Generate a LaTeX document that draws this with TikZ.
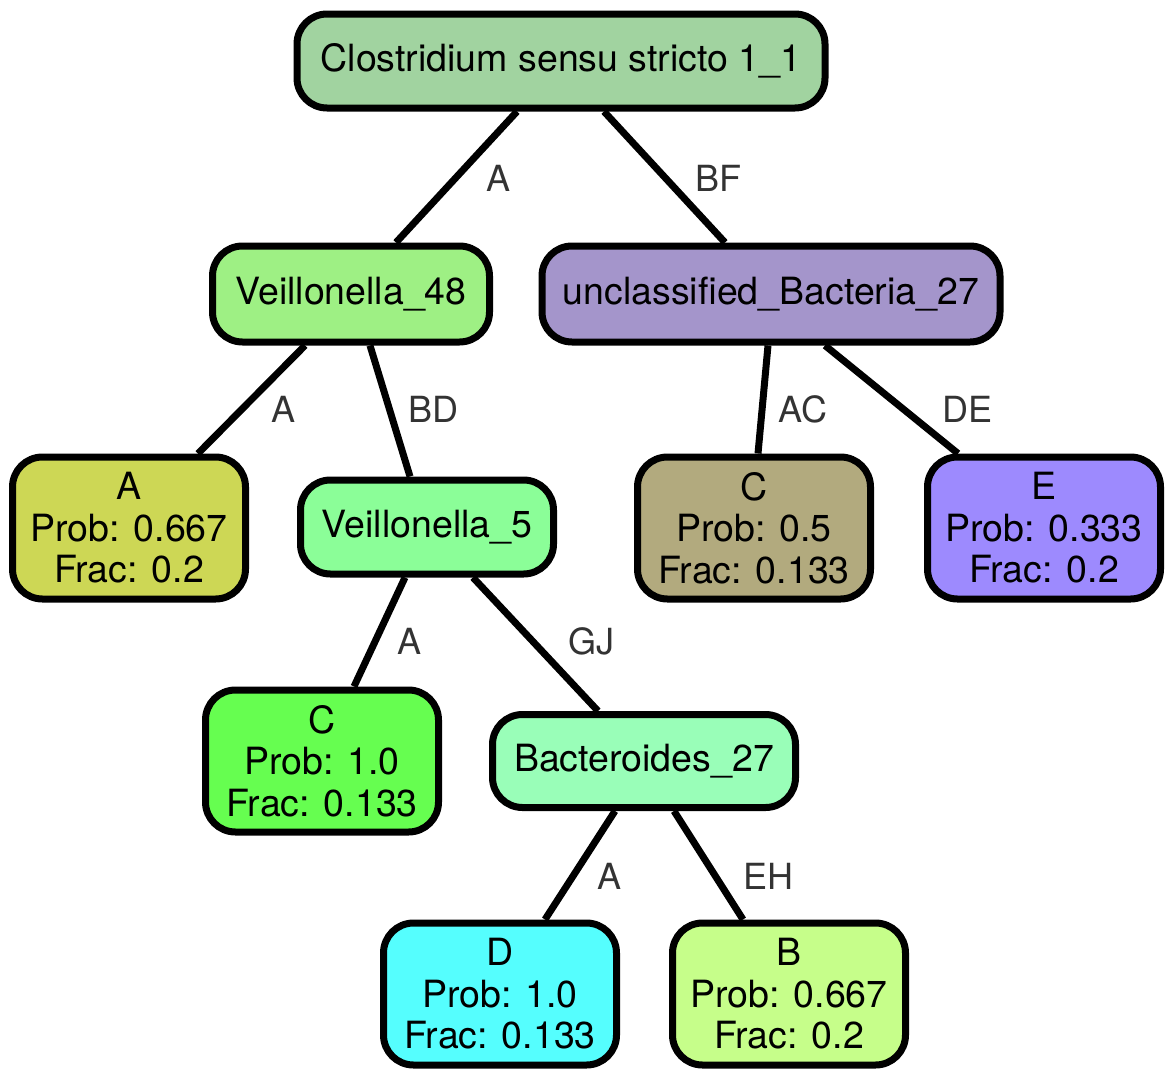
\documentclass[tikz,border=0pt]{standalone}
\usepackage{fontspec}
\setmainfont{TeX Gyre Heros}
\usetikzlibrary{calc}
\definecolor{cRoot}{HTML}{A1D3A0}
\definecolor{cVa}{HTML}{9EF084}
\definecolor{cUn}{HTML}{A495CB}
\definecolor{cLA}{HTML}{CDD755}
\definecolor{cVb}{HTML}{8BFE98}
\definecolor{cLC}{HTML}{B2AA7E}
\definecolor{cLE}{HTML}{9D8AFE}
\definecolor{cLCg}{HTML}{66FE50}
\definecolor{cBa}{HTML}{99FEB8}
\definecolor{cLD}{HTML}{55FEFE}
\definecolor{cLB}{HTML}{C6FE8A}
\definecolor{elab}{HTML}{333333}
\tikzset{
  box/.style={draw=black, line width=7pt, rounded corners=30pt, inner sep=0pt,
    align=center, font=\fontsize{37.5}{41.5}\selectfont},
  inner/.style={box, minimum height=94pt},
  leaf/.style={box, minimum width=233pt, minimum height=142pt},
  conn/.style={line width=7pt, draw=black},
  elabel/.style={text=elab, font=\fontsize{36}{40}\selectfont, inner sep=0pt}
}
\begin{document}
\begin{tikzpicture}[x=1pt,y=-1pt]
\useasboundingbox (0,0) rectangle (1175,1079);
\node[inner, fill=cRoot, minimum width=528pt] (root) at (561,61) {Clostridium sensu stricto 1\_1};
\node[inner, fill=cVa, minimum width=277pt, minimum height=96pt] (va) at (351,294) {Veillonella\_48};
\node[inner, fill=cUn, minimum width=458pt, minimum height=96pt] (un) at (771,294) {unclassified\_Bacteria\_27};
\node[leaf, fill=cLA] (la) at (129,528) {A\\Prob: 0.667\\Frac: 0.2};
\node[inner, fill=cVb, minimum width=253pt] (vb) at (427,527) {Veillonella\_5};
\node[leaf, fill=cLC] (lc) at (754,528) {C\\Prob: 0.5\\Frac: 0.133};
\node[leaf, fill=cLE] (le) at (1044,528) {E\\Prob: 0.333\\Frac: 0.2};
\node[leaf, fill=cLCg] (lcg) at (322,761) {C\\Prob: 1.0\\Frac: 0.133};
\node[inner, fill=cBa, minimum width=303pt, minimum height=93pt] (ba) at (644,761) {Bacteroides\_27};
\node[leaf, fill=cLD] (ld) at (500,994) {D\\Prob: 1.0\\Frac: 0.133};
\node[leaf, fill=cLB] (lb) at (789,994) {B\\Prob: 0.667\\Frac: 0.2};

\draw[conn] ([xshift=-44pt]root.south) -- ([xshift=45pt]va.north);
\draw[conn] ([xshift=43pt]root.south) -- ([xshift=-46pt]un.north);
\draw[conn] ([xshift=-46pt]va.south) -- ([xshift=69pt]la.north);
\draw[conn] ([xshift=19pt]va.south) -- ([xshift=-17pt]vb.north);
\draw[conn] ([xshift=-3pt]un.south) -- ([xshift=4pt]lc.north);
\draw[conn] ([xshift=54pt]un.south) -- ([xshift=-86pt]le.north);
\draw[conn] ([xshift=-22pt]vb.south) -- ([xshift=32pt]lcg.north);
\draw[conn] ([xshift=46pt]vb.south) -- ([xshift=-46pt]ba.north);
\draw[conn] ([xshift=-29pt]ba.south) -- ([xshift=45pt]ld.north);
\draw[conn] ([xshift=30pt]ba.south) -- ([xshift=-46pt]lb.north);

\node[elabel] (e1) at (498,178) {A};
\node[elabel] (e2) at (718,178) {BF};
\node[elabel] (e3) at (284,409) {A};
\node[elabel] (e4) at (433,409) {BD};
\node[elabel] (e5) at (803,409) {AC};
\node[elabel] (e6) at (967,409) {DE};
\node[elabel] (e7) at (410,641) {A};
\node[elabel] (e8) at (591,641) {GJ};
\node[elabel] (e9) at (609,876) {A};
\node[elabel] (e10) at (768,876) {EH};
\end{tikzpicture}
\end{document}
